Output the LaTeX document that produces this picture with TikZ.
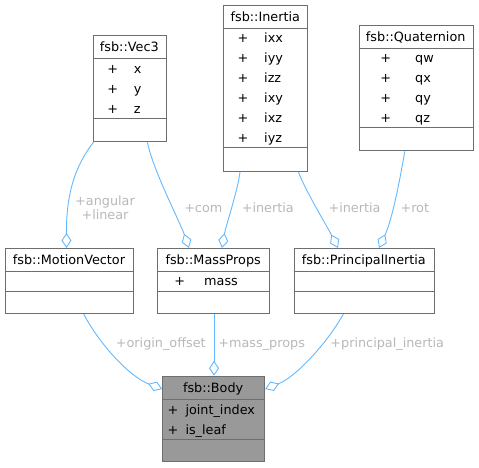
\documentclass[tikz,border=0pt]{standalone}
\usepackage{fontspec}
\setmainfont{DejaVu Sans}
\usetikzlibrary{arrows.meta}
\definecolor{edgeblue}{HTML}{63B8FF}
\definecolor{labgray}{HTML}{B8B8B8}
\definecolor{boxborder}{HTML}{6E6E6E}
\definecolor{bodyfill}{HTML}{999999}
\begin{document}
\begin{tikzpicture}[x=1pt,y=-1pt,
  box/.style={draw=boxborder, line width=1.1pt, fill=white, inner sep=0pt, anchor=north west},
  sepline/.style={draw=boxborder, line width=0.9pt},
  txt/.style={inner sep=0pt, font=\fontsize{12.8}{15}\selectfont, text height=9.3pt, text depth=0pt},
  lab/.style={txt, text=labgray},
  conn/.style={draw=edgeblue, line width=0.9pt, -{Diamond[open, length=15pt, width=10pt, line width=0.9pt]}}
]
\useasboundingbox (0,0) rectangle (479,467);

% ---- Vec3 ----
\node[box, minimum width=73.3pt, minimum height=105.7pt] (vec3) at (92.7,35) {};
\draw[sepline] (92.7,58.7) -- (166,58.7) (92.7,118.3) -- (166,118.3);
\node[txt] (vec3t) at (129.3,46.8) {fsb::Vec3};
\node[txt] (vec3p1) at (112.7,68.6) {+};
\node[txt] (vec3p2) at (112.7,88.5) {+};
\node[txt] (vec3p3) at (112.7,108.4) {+};
\node[txt, anchor=west] (vec3a1) at (133.7,68.6) {x};
\node[txt, anchor=west] (vec3a2) at (133.7,88.5) {y};
\node[txt, anchor=west] (vec3a3) at (133.7,108.4) {z};

% ---- Inertia ----
\node[box, minimum width=84pt, minimum height=165.7pt] (inertia) at (223.3,5) {};
\draw[sepline] (223.3,28) -- (307.3,28) (223.3,147.7) -- (307.3,147.7);
\node[txt] (inertiat) at (265.3,16.5) {fsb::Inertia};
\foreach \n/\yy in {ixx/38, iyy/58, izz/78, ixy/98, ixz/118, iyz/137.8}{
  \node[txt] (inp\n) at (243,\yy) {+};
  \node[txt, anchor=west] (ina\n) at (264,\yy) {\n};
}

% ---- Quaternion ----
\node[box, minimum width=114pt, minimum height=125.3pt] (quat) at (358.7,25) {};
\draw[sepline] (358.7,48) -- (472.7,48) (358.7,127.7) -- (472.7,127.7);
\node[txt] (quatt) at (415.7,36.5) {fsb::Quaternion};
\foreach \n/\yy in {qw/58, qx/78, qy/98, qz/117.8}{
  \node[txt] (qp\n) at (385.7,\yy) {+};
  \node[txt, anchor=west] (qa\n) at (415,\yy) {\n};
}

% ---- MotionVector ----
\node[box, minimum width=128.6pt, minimum height=65pt] (mv) at (4.7,248) {};
\draw[sepline] (4.7,271.3) -- (133.3,271.3) (4.7,291) -- (133.3,291);
\node[txt] (mvt) at (69,259.7) {fsb::MotionVector};

% ---- MassProps ----
\node[box, minimum width=111.7pt, minimum height=65pt] (mp) at (157.3,248) {};
\draw[sepline] (157.3,271.3) -- (269,271.3) (157.3,291) -- (269,291);
\node[txt] (mpt) at (213.15,259.7) {fsb::MassProps};
\node[txt] (mpp) at (179.7,281.2) {+};
\node[txt, anchor=west] (mpa) at (204,281.2) {mass};

% ---- PrincipalInertia ----
\node[box, minimum width=140.3pt, minimum height=65pt] (pi) at (293.7,248) {};
\draw[sepline] (293.7,271.3) -- (434,271.3) (293.7,291) -- (434,291);
\node[txt] (pit) at (363.85,259.7) {fsb::PrincipalInertia};

% ---- Body ----
\node[box, fill=bodyfill, minimum width=101.7pt, minimum height=85.6pt] (body) at (162.3,375.7) {};
\draw[sepline] (162.3,399.7) -- (264,399.7) (162.3,439) -- (264,439);
\node[txt] (bodyt) at (213.15,387.7) {fsb::Body};
\node[txt] (bodyp1) at (173,409.6) {+};
\node[txt] (bodyp2) at (173,429.4) {+};
\node[txt, anchor=west] (bodya1) at (185.3,409.6) {joint\_index};
\node[txt, anchor=west] (bodya2) at (185.3,429.4) {is\_leaf};

% ---- connectors ----
\draw[conn] ([xshift=1pt]vec3.south west) .. controls (80,160) and (66,185) .. ([xshift=-3pt]mv.north);
\draw[conn] ([xshift=-19.7pt]vec3.south east) .. controls (152,168) and (180,222) .. ([xshift=31.7pt]mp.north west);
\draw[conn] ([xshift=16.7pt]inertia.south west) .. controls (238,190) and (226,225) .. ([xshift=64.7pt]mp.north west);
\draw[conn] ([xshift=-10pt]inertia.south east) .. controls (305,190) and (328,228) .. ([xshift=44.3pt]pi.north west);
\draw[conn] ([xshift=46pt]quat.south west) .. controls (400,180) and (392,220) .. ([xshift=85.3pt]pi.north west);
\draw[conn] ([xshift=79pt]mv.south west) .. controls (100,345) and (130,377) .. ([yshift=-13.3pt]body.north west);
\draw[conn] ([xshift=0.35pt]mp.south) -- ([xshift=0.35pt]body.north);
\draw[conn] ([xshift=49.6pt]pi.south west) .. controls (328,342) and (296,377) .. ([yshift=-13.3pt]body.north east);

% ---- labels ----
\node[inner sep=0pt, text=labgray, align=center, font=\fontsize{12.8}{13.6}\selectfont] (lab1) at (105,207.5) {+angular\\+linear};
\node[lab] (lab2) at (203.3,208.3) {+com};
\node[lab] (lab3) at (267.8,208.3) {+inertia};
\node[lab] (lab4) at (354.5,208.3) {+inertia};
\node[lab] (lab5) at (414.8,208.3) {+rot};
\node[lab] (lab6) at (160.8,343.3) {+origin\_offset};
\node[lab] (lab7) at (261.7,343.3) {+mass\_props};
\node[lab] (lab8) at (387.2,343.3) {+principal\_inertia};
\end{tikzpicture}
\end{document}
